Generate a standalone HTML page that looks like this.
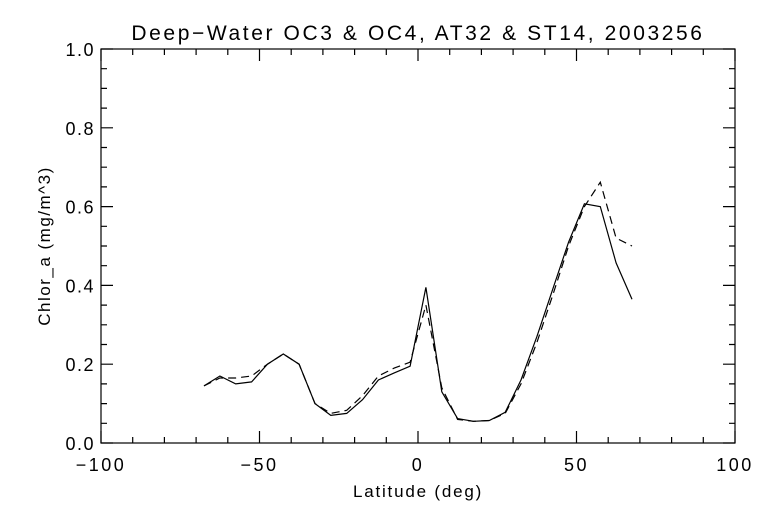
<!DOCTYPE html>
<html><head><meta charset="utf-8"><style>
body{margin:0;background:#fff;}
svg text{font-family:"Liberation Sans",sans-serif;fill:#000;}
</style></head><body>
<svg id="chart" width="768" height="512" viewBox="0 0 768 512">
<rect x="0" y="0" width="768" height="512" fill="#fff"/>
<text x="418" y="40" font-size="21" letter-spacing="2.6" text-anchor="middle">Deep−Water OC3 &amp; OC4, AT32 &amp; ST14, 2003256</text>
<g id="axes"></g>
<g id="series"></g>
<text x="418" y="497" font-size="17" letter-spacing="1.8" text-anchor="middle">Latitude (deg)</text>
<text x="0" y="0" font-size="17" letter-spacing="1.5" text-anchor="middle" transform="translate(50,246) rotate(-90)">Chlor_a (mg/m^3)</text>
</svg>
<script>
const lats=[-67.5,-62.5,-57.5,-52.5,-47.5,-42.5,-37.5,-32.5,-27.5,-22.5,-17.5,-12.5,-7.5,-2.5,2.5,7.5,12.5,17.5,22.5,27.5,32.5,37.5,42.5,47.5,52.5,57.5,62.5,67.5];
const solidVals=[0.145,0.17,0.15,0.155,0.2,0.226,0.2,0.1,0.07,0.075,0.11,0.16,0.178,0.195,0.395,0.13,0.062,0.055,0.057,0.078,0.16,0.27,0.39,0.51,0.607,0.6,0.457,0.365];
const dashedVals=[0.145,0.165,0.165,0.17,0.2,0.226,0.2,0.1,0.075,0.083,0.12,0.17,0.19,0.205,0.35,0.14,0.06,0.055,0.057,0.075,0.15,0.255,0.375,0.5,0.6,0.662,0.52,0.5];
const xTicks=[-100,-50,0,50,100];
const yTicks=[0.0,0.2,0.4,0.6,0.8,1.0];
const X0=101,X1=735,Y0=443,Y1=49;
const xs=v=>X0+(v+100)/200*(X1-X0);
const ys=v=>Y0-v*(Y0-Y1);
const NS='http://www.w3.org/2000/svg';
const axes=document.getElementById('axes'),ser=document.getElementById('series');
function mk(t,a,p){const e=document.createElementNS(NS,t);for(const k in a)e.setAttribute(k,a[k]);p.appendChild(e);return e;}
const fr=mk('rect',{x:X0,y:Y1,width:X1-X0,height:Y0-Y1,fill:'none',stroke:'#000','stroke-width':1.2},axes);


for(let v=-100;v<=100;v+=10){const x=xs(v),L=(v%50===0)?12:6;
 const t=mk('path',{d:`M${x},${Y0}v${-L}M${x},${Y1}v${L}`,stroke:'#000','stroke-width':1.2},axes);
 
 }
for(let i=0;i<=20;i++){const v=i*0.05,y=ys(v),L=(i%4===0)?12:6;
 const t=mk('path',{d:`M${X0},${y}h${L}M${X1},${y}h${-L}`,stroke:'#000','stroke-width':1.2},axes);
 
 }
xTicks.forEach(v=>{const t=mk('text',{x:xs(v),y:Y0+28,'font-size':18,'letter-spacing':2.5,'text-anchor':'middle'},axes);t.textContent=(v<0?'−':'')+Math.abs(v);
 
 });
yTicks.forEach(v=>{const t=mk('text',{x:X0-6,y:ys(v)+7,'font-size':18,'letter-spacing':1.5,'text-anchor':'end'},axes);t.textContent=v.toFixed(1);
 
 });
function line(vals,dash,name){const d=vals.map((v,i)=>(i?'L':'M')+xs(lats[i]).toFixed(1)+','+ys(v).toFixed(1)).join('');
 const p=mk('path',{d:d,fill:'none',stroke:'#000','stroke-width':1.2},ser);if(dash)p.setAttribute('stroke-dasharray',dash);
 
 }
line(dashedVals,'8,5','dashed-series-line');
line(solidVals,null,'solid-series-line');
</script>
</body></html>
